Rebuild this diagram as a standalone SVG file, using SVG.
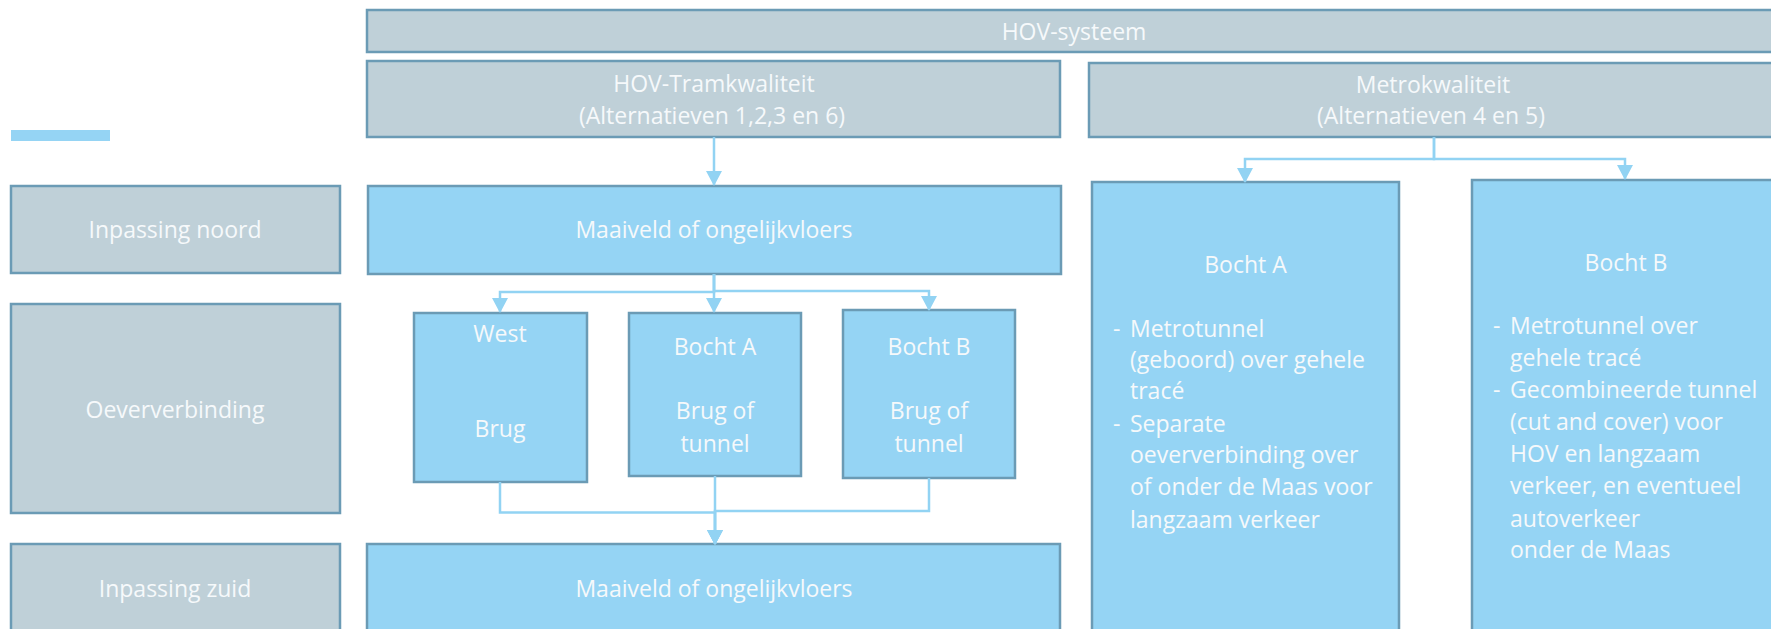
<svg xmlns="http://www.w3.org/2000/svg" width="1771" height="629" viewBox="0 0 1771 629">
<style>
.g{fill:#bfd0d8;stroke:#6b9bb5;stroke-width:2.5}
.b{fill:#95d4f4;stroke:#6b9bb5;stroke-width:2.5}
text{font-family:"Open Sans","Noto Sans","Liberation Sans",sans-serif;font-size:23px;fill:#f6f9fb}
.c{text-anchor:middle}
.con path{fill:none;stroke:#92d3f3;stroke-width:2.5}
</style>
<defs>
<marker id="ah" viewBox="0 0 15 16" markerWidth="15" markerHeight="16" refX="14" refY="8" orient="auto" markerUnits="userSpaceOnUse">
<path d="M0,0 L15,8 L0,16 Z" fill="#92d3f3"/>
</marker>
</defs>
<rect x="11" y="130" width="99" height="11" fill="#95d4f4"/>
<g id="hov-systeem"><rect class="g" x="367" y="10" width="1420" height="42"/><text class="c" x="1074" y="40">HOV-systeem</text></g>
<g id="tramkwaliteit"><rect class="g" x="367" y="61" width="693" height="76"/><text class="c" x="714" y="92">HOV-Tramkwaliteit</text><text class="c" x="712" y="124">(Alternatieven 1,2,3 en 6)</text></g>
<g id="metrokwaliteit"><rect class="g" x="1089" y="63" width="700" height="74"/><text class="c" x="1433" y="93">Metrokwaliteit</text><text class="c" x="1431" y="124">(Alternatieven 4 en 5)</text></g>
<g id="inpassing-noord"><rect class="g" x="11" y="186" width="329" height="87"/><text class="c" x="175" y="238">Inpassing noord</text></g>
<g id="oeververbinding"><rect class="g" x="11" y="304" width="329" height="209"/><text class="c" x="175" y="418">Oeververbinding</text></g>
<g id="inpassing-zuid"><rect class="g" x="11" y="544" width="329" height="110"/><text class="c" x="175" y="597">Inpassing zuid</text></g>
<g id="maaiveld-noord"><rect class="b" x="368" y="186" width="693" height="88"/><text class="c" x="714" y="238">Maaiveld of ongelijkvloers</text></g>
<g id="west"><rect class="b" x="414" y="313" width="173" height="169"/><text class="c" x="500" y="342">West</text><text class="c" x="500" y="437">Brug</text></g>
<g id="tram-bocht-a"><rect class="b" x="629" y="313" width="172" height="163"/><text class="c" x="715" y="355">Bocht A</text><text class="c" x="715" y="419">Brug of</text><text class="c" x="715" y="452">tunnel</text></g>
<g id="tram-bocht-b"><rect class="b" x="843" y="310" width="172" height="168"/><text class="c" x="929" y="355">Bocht B</text><text class="c" x="929" y="419">Brug of</text><text class="c" x="929" y="452">tunnel</text></g>
<g id="maaiveld-zuid"><rect class="b" x="367" y="544" width="693" height="110"/><text class="c" x="714" y="597">Maaiveld of ongelijkvloers</text></g>
<g id="metro-bocht-a"><rect class="b" x="1092" y="182" width="307" height="470"/><text class="c" x="1245.5" y="273">Bocht A</text>
<text x="1113" y="337">-</text><text x="1130" y="337">Metrotunnel</text>
<text x="1130" y="368">(geboord) over gehele</text>
<text x="1130" y="399">tracé</text>
<text x="1113" y="432">-</text><text x="1130" y="432">Separate</text>
<text x="1130" y="463">oeververbinding over</text>
<text x="1130" y="495">of onder de Maas voor</text>
<text x="1130" y="528">langzaam verkeer</text></g>
<g id="metro-bocht-b"><rect class="b" x="1472" y="180" width="320" height="472"/><text class="c" x="1626" y="271">Bocht B</text>
<text x="1493" y="334">-</text><text x="1510" y="334">Metrotunnel over</text>
<text x="1510" y="366">gehele tracé</text>
<text x="1493" y="398">-</text><text x="1510" y="398">Gecombineerde tunnel</text>
<text x="1510" y="430">(cut and cover) voor</text>
<text x="1510" y="462">HOV en langzaam</text>
<text x="1510" y="494">verkeer, en eventueel</text>
<text x="1510" y="527">autoverkeer</text>
<text x="1510" y="558">onder de Maas</text></g>
<g id="connectors" class="con">
<path d="M714,137 V185" marker-end="url(#ah)"/>
<path d="M714,274 V292 H500 V312" marker-end="url(#ah)"/>
<path d="M714,274 V312" marker-end="url(#ah)"/>
<path d="M714,274 V291 H929 V310" marker-end="url(#ah)"/>
<path d="M500,482 V512.5 H715 V544" marker-end="url(#ah)"/>
<path d="M715,476 V544" marker-end="url(#ah)"/>
<path d="M929,478 V511 H715 V544" marker-end="url(#ah)"/>
<path d="M1434,137 V159 H1245 V182" marker-end="url(#ah)"/>
<path d="M1434,137 V159 H1625 V179" marker-end="url(#ah)"/>
</g>
</svg>
